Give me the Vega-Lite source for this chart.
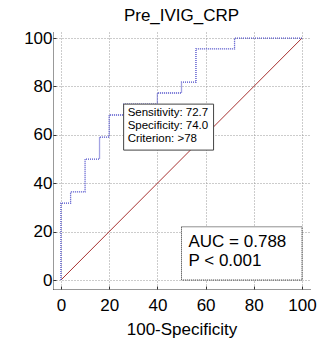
{
  "$schema": "https://vega.github.io/schema/vega-lite/v6.json",
  "autosize": {"type": "none"},
  "padding": {"left": 53, "top": 32, "right": 11, "bottom": 54},
  "width": 257,
  "height": 257,
  "title": {"text": "Pre_IVIG_CRP", "fontSize": 17, "fontWeight": "normal", "font": "Liberation Sans", "anchor": "middle", "frame": "group", "baseline": "bottom", "offset": -13, "color": "#000"},
  "config": {
    "view": {"stroke": null},
    "font": "Liberation Sans",
    "axis": {
      "values": [0,5,10,15,20,25,30,35,40,45,50,55,60,65,70,75,80,85,90,95,100],
      "labelExpr": "datum.value % 20 === 0 ? datum.label : ''",
      "labelOverlap": false,
      "labelBound": false,
      "labelFlush": false,
      "labelFontSize": 17,
      "labelColor": "#000",
      "grid": true,
      "gridColor": "#999",
      "gridDash": [1, 2],
      "gridWidth": 1,
      "gridOpacity": {"condition": {"test": "datum.value % 20 === 0", "value": 1}, "value": 0},
      "domainColor": "#333",
      "domainDash": [1, 1],
      "domainWidth": 1,
      "tickColor": "#333",
      "tickSize": -3,
      "tickWidth": 1,
      "titleFontSize": 17,
      "titleFontWeight": "normal",
      "titleColor": "#000"
    }
  },
  "datasets": {
    "roc": [
      {"o": 0, "fpr": 0, "tpr": 0},
      {"o": 1, "fpr": 0, "tpr": 31.8},
      {"o": 2, "fpr": 4, "tpr": 31.8},
      {"o": 3, "fpr": 4, "tpr": 36.4},
      {"o": 4, "fpr": 10, "tpr": 36.4},
      {"o": 5, "fpr": 10, "tpr": 50},
      {"o": 6, "fpr": 16, "tpr": 50},
      {"o": 7, "fpr": 16, "tpr": 59.1},
      {"o": 8, "fpr": 20, "tpr": 59.1},
      {"o": 9, "fpr": 20, "tpr": 68.2},
      {"o": 10, "fpr": 26, "tpr": 68.2},
      {"o": 11, "fpr": 26, "tpr": 72.7},
      {"o": 12, "fpr": 40, "tpr": 72.7},
      {"o": 13, "fpr": 40, "tpr": 77.3},
      {"o": 14, "fpr": 50, "tpr": 77.3},
      {"o": 15, "fpr": 50, "tpr": 81.8},
      {"o": 16, "fpr": 56, "tpr": 81.8},
      {"o": 17, "fpr": 56, "tpr": 95.5},
      {"o": 18, "fpr": 72, "tpr": 95.5},
      {"o": 19, "fpr": 72, "tpr": 100},
      {"o": 20, "fpr": 100, "tpr": 100}
    ],
    "diag": [{"fpr": 0, "tpr": 0}, {"fpr": 100, "tpr": 100}],
    "crit": [{"fpr": 26, "tpr": 72.7, "fpr2": 63.3, "tpr2": 53.7, "label": ["Sensitivity: 72.7", "Specificity: 74.0", "Criterion: >78"]}],
    "auc": [{"fpr": 50, "tpr": 22, "fpr2": 100, "tpr2": 0, "label": ["AUC = 0.788", "P < 0.001"]}]
  },
  "encoding": {
    "x": {"field": "fpr", "type": "quantitative", "scale": {"domain": [-3.3, 103.3], "nice": false, "zero": false}, "axis": {"title": "100-Specificity", "labelPadding": 11, "titlePadding": 8}},
    "y": {"field": "tpr", "type": "quantitative", "scale": {"domain": [-3.7, 102.5], "nice": false, "zero": false}, "axis": {"title": null, "labelPadding": 4}}
  },
  "layer": [
    {
      "data": {"name": "diag"},
      "mark": {"type": "line", "color": "#a83232", "strokeWidth": 1},
      "encoding": {}
    },
    {
      "data": {"name": "roc"},
      "mark": {"type": "line", "color": "#4848c8", "strokeWidth": 1.3, "strokeDash": [1, 1]},
      "encoding": {"order": {"field": "o", "type": "quantitative"}}
    },
    {
      "data": {"name": "crit"},
      "mark": {"type": "rect", "fill": "#fff", "stroke": "#444", "strokeWidth": 1},
      "encoding": {"x2": {"field": "fpr2"}, "y2": {"field": "tpr2"}}
    },
    {
      "data": {"name": "crit"},
      "mark": {"type": "text", "align": "left", "baseline": "top", "fontSize": 11.5, "lineHeight": 13, "dx": 4, "dy": 3, "color": "#000"},
      "encoding": {"text": {"field": "label"}}
    },
    {
      "data": {"name": "auc"},
      "mark": {"type": "rect", "fill": "#fff", "stroke": "#222", "strokeWidth": 1, "strokeDash": [1, 1]},
      "encoding": {"x2": {"field": "fpr2"}, "y2": {"field": "tpr2"}}
    },
    {
      "data": {"name": "auc"},
      "mark": {"type": "text", "align": "left", "baseline": "top", "fontSize": 17, "lineHeight": 19, "dx": 7, "dy": 7, "color": "#000"},
      "encoding": {"text": {"field": "label"}}
    }
  ]
}
